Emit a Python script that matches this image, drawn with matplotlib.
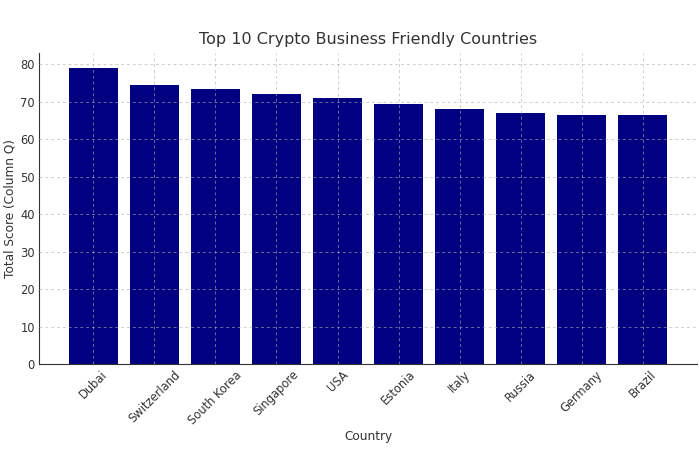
import matplotlib
matplotlib.use("Agg")
import matplotlib.pyplot as plt

countries = ["Dubai", "Switzerland", "South Korea", "Singapore", "USA",
             "Estonia", "Italy", "Russia", "Germany", "Brazil"]
scores = [79.0, 74.5, 73.5, 72.0, 71.0, 69.5, 68.0, 67.0, 66.5, 66.5]
yticks = [0, 10, 20, 30, 40, 50, 60, 70, 80]

plt.rcParams['font.family'] = ['DejaVu Sans']
text_color = '#333333'

fig = plt.figure(figsize=(6.99, 4.71), dpi=100)
ax = fig.add_axes([0.056, 0.227, 0.941, 0.66])
ax.bar(countries, scores, color='navy', width=0.8, zorder=2)
ax.set_yticks(yticks)
ax.grid(True, linestyle=(0, (3, 3)), color='#b0b0b0', alpha=0.6, linewidth=0.7, zorder=3)
ax.set_axisbelow(False)
for s in ['top', 'right']:
    ax.spines[s].set_visible(False)
for s in ['left', 'bottom']:
    ax.spines[s].set_color('#333333')
ax.tick_params(axis='both', length=0, labelsize=8.3, colors=text_color, pad=3)
plt.setp(ax.get_xticklabels(), rotation=45, ha='center')
ax.set_title("Top 10 Crypto Business Friendly Countries", fontsize=11.5, color=text_color, pad=7)
ax.set_xlabel("Country", fontsize=8.7, color=text_color)
ax.set_ylabel("Total Score (Column Q)", fontsize=8.7, color=text_color, labelpad=3)
ax.xaxis.set_label_coords(0.5, -0.212)
fig.savefig("out.png", dpi=100)
